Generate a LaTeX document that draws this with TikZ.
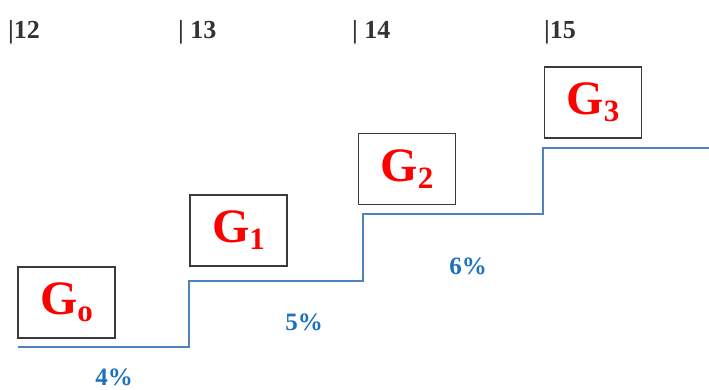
\documentclass[tikz,border=0pt]{standalone}
\usepackage{fontspec}
\setmainfont{Liberation Serif}
\definecolor{stepblue}{HTML}{4F81BD}
\definecolor{pctblue}{HTML}{1F70BF}
\definecolor{topgray}{HTML}{333333}
\definecolor{boxgray}{HTML}{3A3A3A}
\newcommand{\gname}[2]{{\fontsize{48}{48}\selectfont\bfseries G}\raisebox{-7pt}{\fontsize{31}{31}\selectfont\bfseries #1}}
\begin{document}
\begin{tikzpicture}[x=1pt,y=-1pt,
  gbox/.style={draw=boxgray,line width=1.5pt,minimum width=97pt,minimum height=71pt,inner sep=0pt,text=red},
  toplabel/.style={anchor=base west,inner sep=0pt,text=topgray,font=\fontsize{26}{26}\selectfont\bfseries},
  pct/.style={inner sep=0pt,text=pctblue,font=\fontsize{25}{25}\selectfont\bfseries},
  stepline/.style={draw=stepblue,line width=1.8pt}]
\useasboundingbox (0,0) rectangle (709,390);
% top labels
\node[toplabel] (t12) at (8,39) {|12};
\node[toplabel] (t13) at (178,39) {| 13};
\node[toplabel] (t14) at (352,39) {| 14};
\node[toplabel] (t15) at (544,39) {|15};
% boxes
\node[gbox] (g0) at (66.5,302.5) {\gname{o}{}};
\node[gbox] (g1) at (238.5,230.5) {\gname{1}{}};
\node[gbox] (g2) at (407,169) {\gname{2}{}};
\node[gbox] (g3) at (593,102.5) {\gname{3}{}};
% step line
\coordinate (s0) at (18,347);
\coordinate (s1) at (189,347);
\coordinate (s2) at (189,281);
\coordinate (s3) at (363,281);
\coordinate (s4) at (363,214);
\coordinate (s5) at (543,214);
\coordinate (s6) at (543,148);
\coordinate (s7) at (709,148);
\draw[stepline] (s0) -- (s1) -- (s2) -- (s3) -- (s4) -- (s5) -- (s6) -- (s7);
% percentages
\node[pct] (p4) at (114,377.5) {4\%};
\node[pct] (p5) at (304,322) {5\%};
\node[pct] (p6) at (468,266) {6\%};
\end{tikzpicture}
\end{document}
